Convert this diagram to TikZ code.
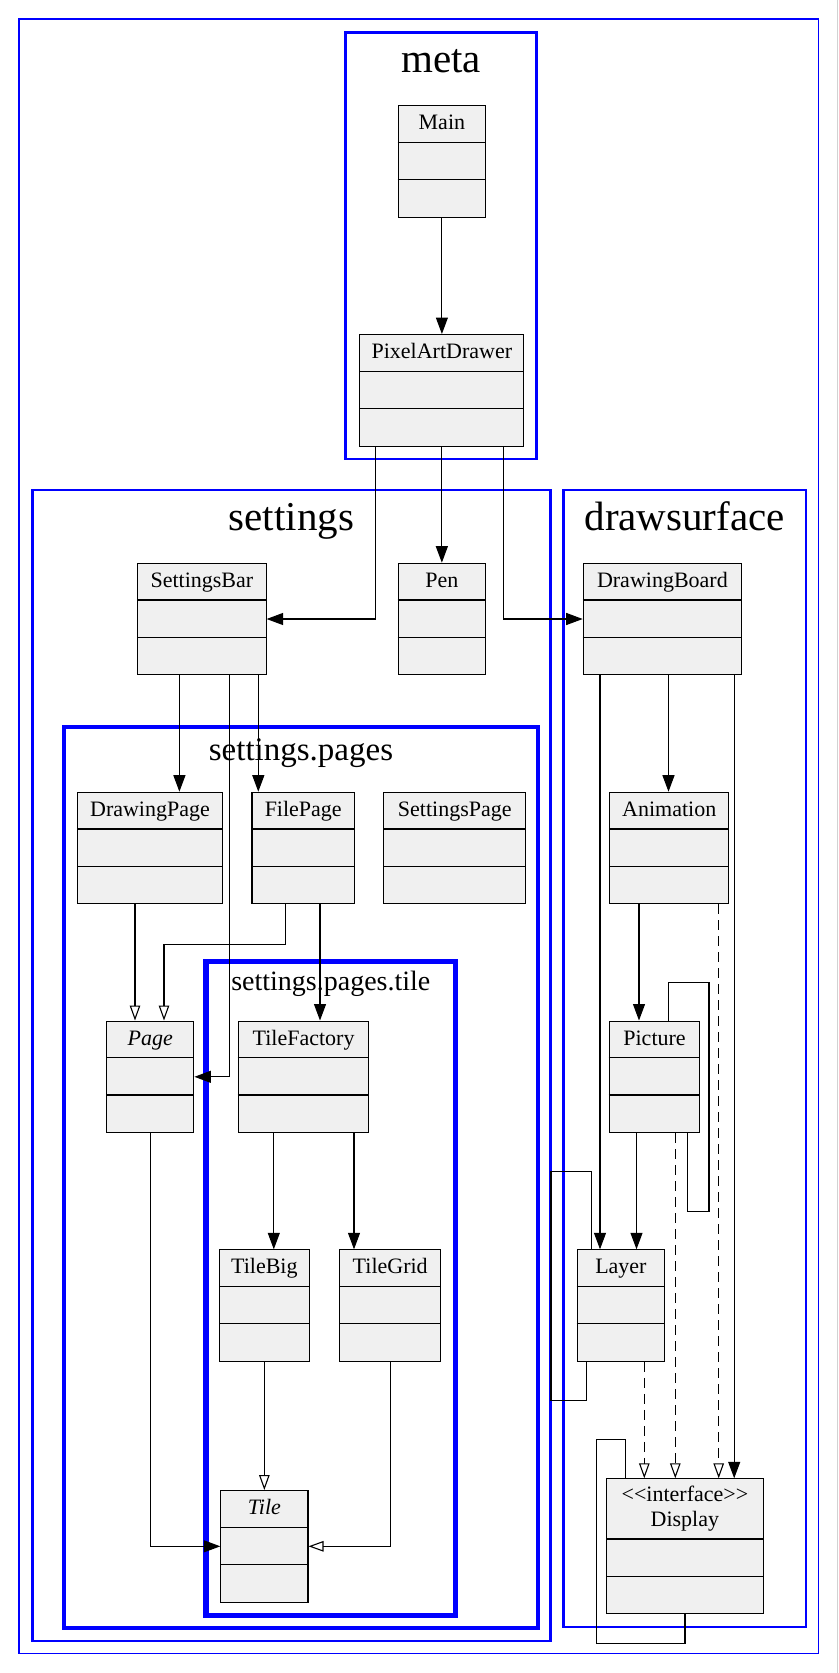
\documentclass[tikz,border=0pt]{standalone}
\usepackage{fontspec}
\setmainfont{Liberation Serif}
\usetikzlibrary{arrows.meta,calc}
\definecolor{boxfill}{RGB}{240,240,240}
\definecolor{clblue}{RGB}{0,0,255}
\tikzset{
 classbox/.style={draw=black, fill=boxfill, line width=1.1pt, inner sep=0pt, anchor=north west},
 sepline/.style={draw=black, line width=1.1pt},
 ctitle/.style={font=\fontsize{22}{26}\selectfont, inner sep=0pt, anchor=base},
 ltitle/.style={inner sep=0pt, anchor=base},
 cluster/.style={draw=clblue},
 edge/.style={draw=black, line width=1.1pt},
 dep/.style={edge, -{Triangle[length=16.5pt,width=12pt]}},
 inh/.style={edge, -{Triangle[open,length=15pt,width=10.5pt]}},
 impl/.style={inh, dash pattern=on 10pt off 6pt},
}
\newcommand\umlclass[8]{%
 \node[classbox, minimum width=#4pt, minimum height=#5pt] (#1) at (#2,#3) {};
 \draw[sepline] ([yshift=-#6pt]#1.north west) -- ([yshift=-#6pt]#1.north east);
 \draw[sepline] ([yshift=-#7pt]#1.north west) -- ([yshift=-#7pt]#1.north east);
 \node[ctitle] (#1-name) at ([yshift=-24.5pt]#1.north) {#8};
}
\begin{document}
\begin{tikzpicture}[x=1pt,y=-1pt]
\useasboundingbox (0,0) rectangle (838,1673);
\fill[white] (0,0) rectangle (838,1673);
\draw[gray!35, line width=1pt] (837.2,0) -- (837.2,1673);
% clusters
\draw[cluster, line width=1.3pt] (19,19) rectangle (818.3,1653.3);
\draw[cluster, line width=2.8pt] (345.7,32.3) rectangle (536.7,459);
\draw[cluster, line width=2.8pt] (32.1,490) rectangle (550.7,1641);
\draw[cluster, line width=2.8pt] (563.5,490) rectangle (806,1627);
\draw[cluster, line width=4pt] (64.1,726.7) rectangle (538,1627.7);
\draw[cluster, line width=5.5pt] (206,961.7) rectangle (455.6,1615.7);
% cluster titles
\node[ltitle, font=\fontsize{41}{48}\selectfont] (t-meta) at (441.2,72) {meta};
\node[ltitle, font=\fontsize{41}{48}\selectfont] (t-settings) at (291.4,530) {settings};
\node[ltitle, font=\fontsize{41}{48}\selectfont] (t-draw) at (684.7,530) {drawsurface};
\node[ltitle, font=\fontsize{33}{38}\selectfont] (t-pages) at (301,760) {settings.pages};
\node[ltitle, font=\fontsize{28}{32}\selectfont] (t-tile) at (330.8,990.7) {settings.pages.tile};
% classes
\umlclass{main}{397.7}{105}{87.3}{111.5}{37.3}{74.5}{Main}
\umlclass{pad}{359.3}{334}{164}{111.5}{37.3}{74.5}{PixelArtDrawer}
\umlclass{sbar}{137.1}{562.7}{128.4}{111.5}{37.3}{74.5}{SettingsBar}
\umlclass{pen}{397.7}{562.7}{87.2}{111.5}{37.3}{74.5}{Pen}
\umlclass{dboard}{582.7}{562.7}{158.3}{111.5}{37.3}{74.5}{DrawingBoard}
\umlclass{dpage}{76.8}{791.7}{145.3}{111.5}{37.3}{74.5}{DrawingPage}
\umlclass{fpage}{251.4}{791.7}{102.6}{111.5}{37.3}{74.5}{FilePage}
\umlclass{spage}{383.3}{791.7}{141.9}{111.5}{37.3}{74.5}{SettingsPage}
\umlclass{anim}{609}{791.7}{119.3}{111.5}{37.3}{74.5}{Animation}
\umlclass{page}{106}{1020.5}{87.3}{111.5}{37.3}{74.5}{\itshape Page}
\umlclass{tfact}{237.7}{1020.5}{130.6}{111.5}{37.3}{74.5}{TileFactory}
\umlclass{pic}{608.7}{1020.5}{90.6}{111.5}{37.3}{74.5}{Picture}
\umlclass{tbig}{219}{1249.3}{89.6}{111.5}{37.3}{74.5}{TileBig}
\umlclass{tgrid}{339.2}{1249.3}{100.9}{111.5}{37.3}{74.5}{TileGrid}
\umlclass{layer}{576.7}{1249.3}{87.3}{111.5}{37.3}{74.5}{Layer}
\umlclass{tile}{220.3}{1490}{87.1}{111.5}{37.3}{74.5}{\itshape Tile}
\umlclass{disp}{606}{1478.3}{156.7}{135}{60.7}{98}{}
\node[ctitle] (disp-st) at ([yshift=-23.4pt]disp.north) {<\kern0pt<interface>\kern0pt>};
\node[ctitle] (disp-nm) at ([yshift=-47.7pt]disp.north) {Display};
% edges
\draw[dep] (main.south) coordinate (e1) -- (e1 |- pad.north);
\draw[dep] ([xshift=16.4pt]pad.south west) |- (sbar.east);
\draw[dep] (pad.south) coordinate (e3) -- (e3 |- pen.north);
\draw[dep] ([xshift=144.4pt]pad.south west) |- (dboard.west);
\draw[dep] ([xshift=42.3pt]sbar.south west) coordinate (e5) -- (e5 |- dpage.north);
\draw[dep] ([xshift=92.3pt]sbar.south west) |- (page.east);
\draw[dep] ([xshift=121.2pt]sbar.south west) coordinate (e7) -- (e7 |- fpage.north);
\draw[inh] ([xshift=58.2pt]dpage.south west) coordinate (e8) -- (e8 |- page.north);
\draw[inh] ([xshift=33.8pt]fpage.south west) -- ++(0,40) -| ([xshift=58pt]page.north west);
\draw[dep] ([xshift=68.6pt]fpage.south west) coordinate (e10) -- (e10 |- tfact.north);
\draw[dep] ([xshift=36.1pt]tfact.south west) coordinate (e11) -- (e11 |- tbig.north);
\draw[dep] ([xshift=116.3pt]tfact.south west) coordinate (e12) -- (e12 |- tgrid.north);
\draw[inh] (tbig.south) coordinate (e13) -- (e13 |- tile.north);
\draw[inh] (tgrid.south) |- (tile.east);
\draw[dep] (page.south) |- (tile.west);
\draw[dep] ([xshift=17.3pt]dboard.south west) coordinate (e16) -- (e16 |- layer.north);
\draw[dep] ([xshift=85.8pt]dboard.south west) coordinate (e17) -- (e17 |- anim.north);
\draw[dep] ([xshift=151.5pt]dboard.south west) coordinate (e18) -- (e18 |- disp.north);
\draw[dep] ([xshift=30pt]anim.south west) coordinate (e19) -- (e19 |- pic.north);
\draw[impl] ([xshift=109.7pt]anim.south west) coordinate (e20) -- (e20 |- disp.north);
\draw[dep] ([xshift=27.8pt]pic.south west) coordinate (e21) -- (e21 |- layer.north);
\draw[impl] ([xshift=66.6pt]pic.south west) coordinate (e22) -- (e22 |- disp.north);
\draw[impl] ([xshift=67.6pt]layer.south west) coordinate (e23) -- (e23 |- disp.north);
% self loops
\draw[edge] ([xshift=60pt]pic.north west) -- ++(0,-38.3) -- ++(40.3,0) -- ++(0,229) -- ++(-21.7,0) -- ([xshift=78.6pt]pic.south west);
\draw[edge] ([xshift=15pt]layer.north west) -- ++(0,-77.6) -- ++(-40.7,0) -- ++(0,228.8) -- ++(35.7,0) -- ([xshift=10pt]layer.south west);
\draw[edge] ([xshift=19.3pt]disp.north west) -- ++(0,-39) -- ++(-28.6,0) -- ++(0,204) -- ++(88.3,0) -- ([xshift=79pt]disp.south west);
\end{tikzpicture}
\end{document}
